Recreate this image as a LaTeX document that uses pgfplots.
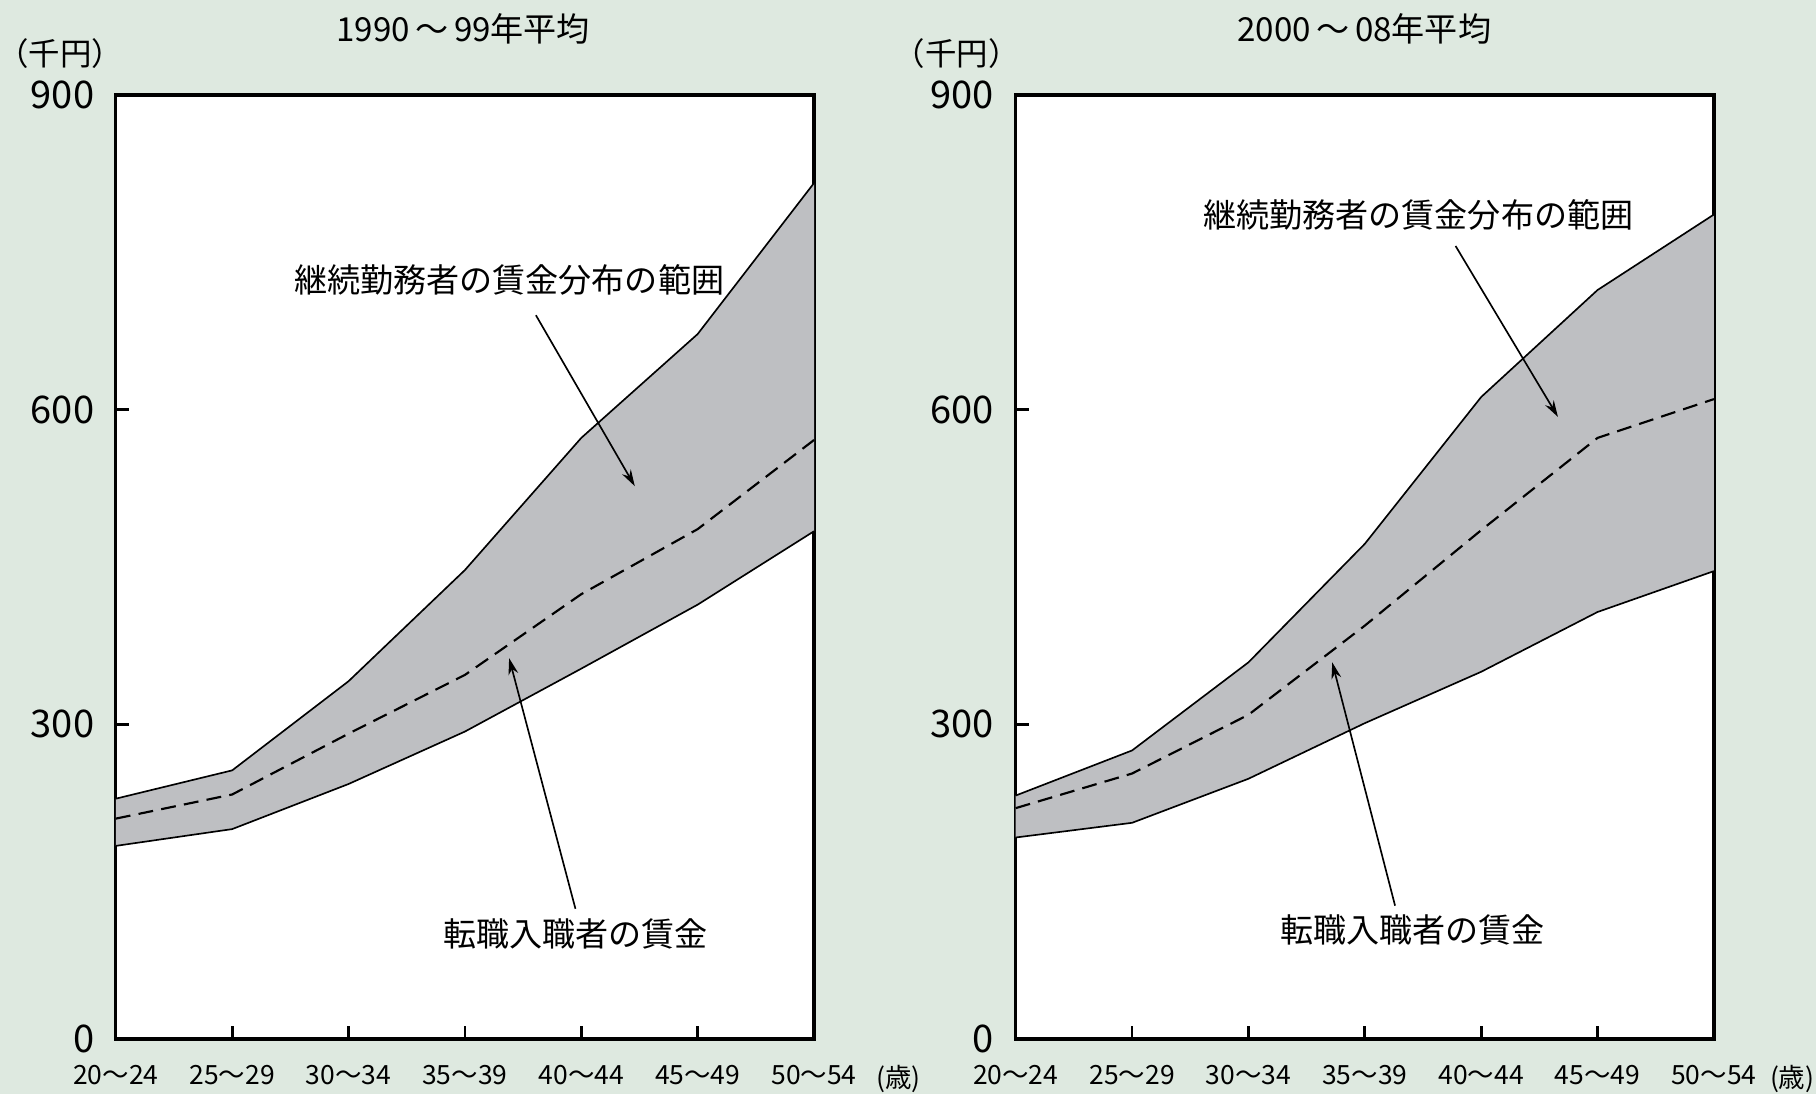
\documentclass[border=0pt]{standalone}
\usepackage{fontspec}
\setmainfont{Noto Sans CJK JP}
\usepackage{pgfplots}
\pgfplotsset{compat=1.18}
\usetikzlibrary{arrows.meta}
\definecolor{bg}{HTML}{DEE9E0}
\definecolor{band}{HTML}{BEBFC2}
\pgfplotsset{panel/.style={
  scale only axis, width=211pt, height=285.25pt, anchor=south west,
  xmin=0, xmax=6, ymin=0, ymax=900,
  xtick={0,...,6},
  xticklabels={20～24,25～29,30～34,35～39,40～44,45～49,50～54},
  ytick={0,300,600,900}, yticklabels={0,300,600,900},
  tick align=inside, tick pos=left, major tick length=4pt,
  axis line style={line width=1pt},
  tick style={line width=0.8pt, black},
  axis background/.style={fill=white},
  xticklabel style={font=\fontsize{8}{8}\selectfont, yshift=-4.5pt},
  yticklabel style={font=\fontsize{11.5}{11.5}\selectfont, xshift=-3pt},
  no markers, clip=false,
}}
\tikzset{ann/.style={font=\fontsize{10}{10}\selectfont, fill=none, inner sep=0pt},
  arr/.style={-{Stealth[length=5pt,width=3pt]}, line width=0.5pt}}
\begin{document}
\begin{tikzpicture}
\useasboundingbox (0,0) rectangle (548.8pt,330.75pt);
\fill[bg] (0,0) rectangle (548.8pt,330.75pt);
% titles
\node[font=\fontsize{10}{10}\selectfont] at (140pt,322pt) {1990\,～\,99年平均};
\node[font=\fontsize{10}{10}\selectfont] at (412.3pt,322pt) {2000\,～\,08年平均};
\node[font=\fontsize{9.5}{9.5}\selectfont] at (18.2pt,314.6pt) {（千円）};
\node[font=\fontsize{9.5}{9.5}\selectfont] at (289.1pt,314.6pt) {（千円）};
\node[font=\fontsize{8}{8}\selectfont] at (271.6pt,4.6pt) {(歳)};
\node[font=\fontsize{8}{8}\selectfont] at (541.6pt,4.6pt) {(歳)};

\begin{axis}[panel, at={(35pt,16.8pt)}]
\addplot[fill=band, draw=none] coordinates {(0,229)(1,256)(2,341)(3,447)(4,573)(5,672)(6,816)(6,484)(5,414)(4,353)(3,293)(2,243)(1,200)(0,184)} -- cycle;
\addplot[black, line width=0.5pt] coordinates {(0,229)(1,256)(2,341)(3,447)(4,573)(5,672)(6,816)};
\addplot[black, line width=0.5pt] coordinates {(0,184)(1,200)(2,243)(3,293)(4,353)(5,414)(6,484)};
\addplot[black, line width=0.65pt, dash pattern=on 4.5pt off 2.5pt] coordinates {(0,210)(1,233)(2,291)(3,347)(4,424)(5,486)(6,571)};
\node[ann] at (axis cs:3.38,724) {継続勤務者の賃金分布の範囲};
\draw[arr] (axis cs:3.61,690) -- (axis cs:4.46,527);
\node[ann] at (axis cs:3.95,100) {転職入職者の賃金};
\draw[arr] (axis cs:3.95,124) -- (axis cs:3.38,363);
\end{axis}

\begin{axis}[panel, at={(306.95pt,16.8pt)}]
\addplot[fill=band, draw=none] coordinates {(0,232)(1,275)(2,359)(3,472)(4,612)(5,714)(6,786)(6,446)(5,407)(4,350)(3,301)(2,248)(1,206)(0,192)} -- cycle;
\addplot[black, line width=0.5pt] coordinates {(0,232)(1,275)(2,359)(3,472)(4,612)(5,714)(6,786)};
\addplot[black, line width=0.5pt] coordinates {(0,192)(1,206)(2,248)(3,301)(4,350)(5,407)(6,446)};
\addplot[black, line width=0.65pt, dash pattern=on 4.5pt off 2.5pt] coordinates {(0,220)(1,253)(2,309)(3,394)(4,485)(5,573)(6,610)};
\node[ann] at (axis cs:3.46,786) {継続勤務者の賃金分布の範囲};
\draw[arr] (axis cs:3.78,756) -- (axis cs:4.66,593);
\node[ann] at (axis cs:3.41,104) {転職入職者の賃金};
\draw[arr] (axis cs:3.26,127) -- (axis cs:2.72,359);
\end{axis}
\end{tikzpicture}
\end{document}
